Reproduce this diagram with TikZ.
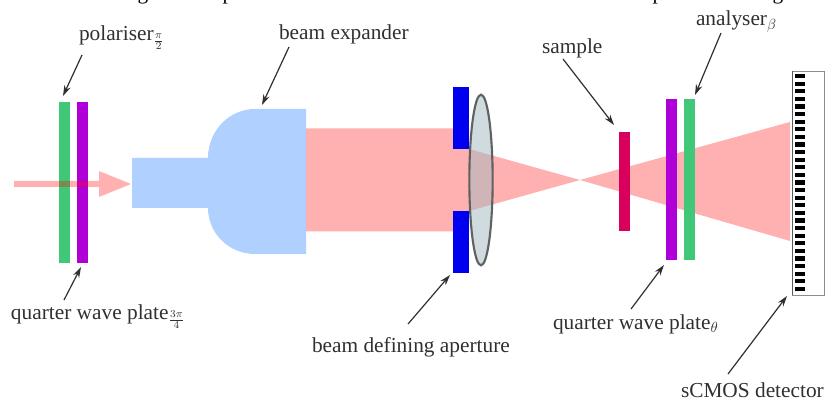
\documentclass[tikz,border=0pt]{standalone}
\usepackage{fontspec}
\setmainfont{Liberation Serif}
\usetikzlibrary{arrows.meta,calc,shapes.geometric}
\definecolor{platepurple}{HTML}{B000D8}
\definecolor{plategreen}{HTML}{40C878}
\definecolor{samplered}{HTML}{D8005C}
\definecolor{apblue}{HTML}{0000F0}
\definecolor{expblue}{HTML}{B0D0FF}
\definecolor{labelgray}{HTML}{303030}
\definecolor{lensfill}{HTML}{A0B8C0}
\tikzset{
 x=0.75pt,y=-0.75pt,
 plate/.style={draw=none,inner sep=0pt,outer sep=0pt,minimum width=8.25pt,anchor=north west},
 lbl/.style={inner sep=0pt,outer sep=0pt,text=labelgray,font=\fontsize{16}{18}\selectfont,anchor=base west},
 cut/.style={inner sep=0pt,outer sep=0pt,font=\fontsize{16}{18}\selectfont,anchor=base},
 ptr/.style={draw=labelgray,line width=0.9pt,-{Stealth[length=8pt,width=5pt]}},
 beam/.style={fill=red,fill opacity=0.31,draw=none}
}
\begin{document}
\begin{tikzpicture}
\useasboundingbox (0,0) rectangle (825,399);
% caption cut off at the top edge
\node[cut] (capa) at (143,0) {g};
\node[cut] (capb) at (228,0) {p};
\node[cut] (capc) at (658,0) {p};
\node[cut] (capd) at (778,0) {g};
% plates at the left
\node[plate,fill=plategreen,minimum height=120.75pt] (gone) at (59,102) {};
\node[plate,fill=platepurple,minimum height=120.75pt] (pone) at (77,102) {};
% incoming arrow
\fill[beam] (14,181) -- (99,181) -- (99,171) -- (131,184) -- (99,197) -- (99,187) -- (14,187) -- cycle;
% expander
\fill[expblue] (132,158) -- (208,158) arc[start angle=180,end angle=90,x radius=47,y radius=-49] -- (306,109) -- (306,254) -- (255,254) arc[start angle=270,end angle=180,x radius=47,y radius=-46] -- (132,208) -- cycle;
\coordinate (exptop) at (255,109);
% collimated and converging beam
\fill[beam] (306,128.5) -- (469,128.5) -- (469,149) -- (580,180) -- (790,122) -- (790,241) -- (580,180) -- (469,211) -- (469,231.5) -- (306,231.5) -- cycle;
% lens
\node[draw=black!62,line width=1.6pt,fill=lensfill,fill opacity=0.5,ellipse,inner sep=0pt,minimum width=17.5pt,minimum height=128pt] (lens) at (481,180) {};
% aperture
\node[plate,fill=apblue,minimum width=12pt,minimum height=46.5pt] (aptop) at (453,87) {};
\node[plate,fill=apblue,minimum width=12pt,minimum height=46.5pt] (apbot) at (453,211) {};
% right plates
\node[plate,fill=samplered,minimum height=74.25pt] (samp) at (619,132) {};
\node[plate,fill=platepurple,minimum height=120.75pt] (ptwo) at (666,99) {};
\node[plate,fill=plategreen,minimum height=120.75pt] (gtwo) at (684,99) {};
% detector
\node[plate,draw=black!45,line width=0.6pt,fill=white,minimum width=24pt,minimum height=168pt] (det) at (792.5,71) {};
\draw[black!65,line width=1.2pt] (det.north west) -- (det.south west);
\foreach \i in {0,...,28}{
 \fill[black] (795,{74+\i*7.6}) rectangle (805,{78.2+\i*7.6});
}
% labels
\node[lbl] (lpol) at (79,41) {polariser$_{\frac{\pi}{2}}$};
\node[lbl] (lexp) at (279,40) {beam expander};
\node[lbl] (lsam) at (542,54) {sample};
\node[lbl] (lana) at (696,26) {analyser$_{\beta}$};
\node[lbl] (lqone) at (11,319) {quarter wave plate$_{\frac{3\pi}{4}}$};
\node[lbl] (lapr) at (312,352) {beam defining aperture};
\node[lbl] (lqtwo) at (553,329) {quarter wave plate$_{\theta}$};
\node[lbl] (ldet) at (681,397) {sCMOS detector};
% pointers
\draw[ptr] ([shift={(3,14)}]lpol.base west) -- ([shift={(4,-6)}]gone.north west);
\draw[ptr] ([shift={(10,7)}]lexp.base west) -- ([shift={(7,-4)}]exptop);
\draw[ptr] ([shift={(21,5)}]lsam.base west) -- ([shift={(-5,-7)}]samp.north west);
\draw[ptr] ([shift={(25,7)}]lana.base west) -- ([shift={(0,-4)}]gtwo.north east);
\draw[ptr] ([shift={(53,-19)}]lqone.base west) -- ([shift={(4,4)}]pone.south west);
\draw[ptr] ([shift={(96,-28)}]lapr.base west) -- ([shift={(-3,2)}]apbot.south west);
\draw[ptr] ([shift={(78,-20)}]lqtwo.base west) -- ([shift={(-2,5)}]ptwo.south west);
\draw[ptr] ([shift={(47,-23)}]ldet.base west) -- ([shift={(-5.5,1)}]det.south west);
\end{tikzpicture}
\end{document}
